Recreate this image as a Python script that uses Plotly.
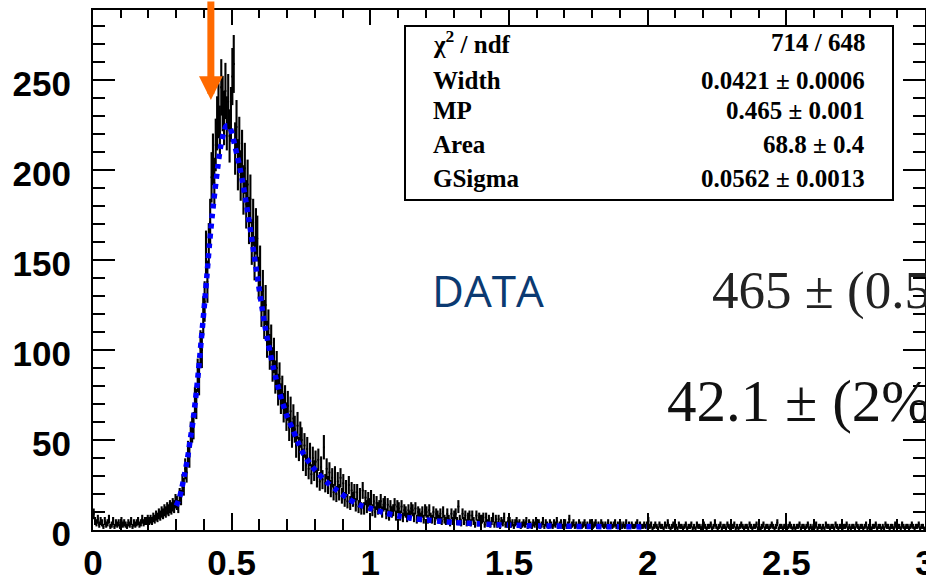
import numpy as np
import plotly.graph_objects as go

# ---------------- histogram: counts per 0.005-wide bin on [0, 3) ----------------
BIN_WIDTH = 0.005
X_MIN = 0.0

counts_baseline = [  # 0.000 - 0.195
    9, 5, 4, 6, 3, 5, 4, 2, 5, 3, 4, 6, 2, 3, 5, 2, 4, 3, 4, 2,
    5, 3, 4, 3, 2, 4, 3, 5, 2, 4, 3, 4, 5, 3, 4, 6, 4, 5, 5, 6,
]
counts_rise = [  # 0.200 - 0.295
    5, 6, 5, 7, 6, 8, 7, 9, 8, 10, 9, 11, 10, 12, 11, 13, 12, 14, 13, 16,
]
counts_peak = [  # 0.300 - 0.695
    15, 13, 19, 18, 26, 24, 34, 32, 43, 41,
    53, 56, 58, 71, 70, 86, 84, 101, 100, 119,
    127, 154, 138, 158, 171, 196, 206, 193, 214, 226,
    233, 221, 246, 237, 229, 244, 226, 238, 219, 231,
    252, 259, 212, 224, 203, 215, 197, 208, 189, 201,
    181, 192, 172, 184, 160, 171, 151, 166, 162, 140,
    146, 124, 133, 117, 125, 106, 112, 99, 104, 92,
    97, 85, 90, 78, 84, 73, 77, 68, 72, 63,
]
counts_tail = [  # 0.700 - 1.495
    69, 57, 66, 53, 62, 56, 47, 58, 45, 53,
    50, 39, 47, 36, 45, 34, 42, 31, 40, 33,
    38, 29, 39, 27, 35, 28, 46, 26, 34, 25,
    32, 23, 29, 21, 30, 20, 27, 21, 29, 19,
    26, 17, 23, 16, 25, 15, 22, 17, 21, 14,
    21, 13, 19, 12, 22, 12, 18, 13, 17, 14,
    18, 11, 16, 10, 15, 12, 13, 16, 10, 14,
    15, 9, 14, 8, 13, 10, 11, 14, 8, 13,
    12, 8, 13, 7, 11, 10, 7, 11, 8, 12,
    11, 7, 12, 6, 10, 9, 7, 10, 6, 11,
    10, 6, 11, 7, 6, 10, 5, 9, 8, 6,
    9, 5, 10, 6, 5, 9, 6, 4, 9, 5,
    8, 9, 5, 13, 6, 4, 9, 5, 8, 4,
    7, 8, 4, 8, 5, 3, 8, 4, 7, 6,
    6, 7, 3, 7, 4, 6, 3, 5, 7, 3,
    6, 3, 6, 2, 5, 4, 7, 3, 3, 5,
]
counts_flat = [  # 1.500 - 2.995
    5, 3, 4, 2, 4, 5, 3, 4, 2, 3, 4, 3, 5, 2, 4, 3, 2, 4, 3, 5,
    3, 4, 2, 3, 5, 2, 4, 3, 2, 4, 3, 2, 4, 3, 5, 2, 3, 4, 2, 3,
    4, 2, 3, 6, 2, 3, 4, 2, 3, 2, 4, 3, 2, 3, 4, 2, 3, 2, 4, 3,
    2, 3, 4, 2, 3, 2, 4, 3, 2, 3, 2, 4, 2, 3, 2, 3, 4, 2, 3, 2,
    3, 2, 3, 2, 4, 2, 3, 2, 3, 2, 2, 3, 4, 2, 3, 2, 2, 3, 2, 3,
    5, 2, 3, 1, 2, 3, 2, 1, 3, 2, 2, 1, 3, 2, 4, 2, 1, 2, 3, 2,
    2, 1, 3, 2, 2, 1, 2, 3, 1, 2, 2, 3, 1, 2, 1, 3, 2, 2, 1, 2,
    3, 2, 1, 2, 2, 3, 1, 2, 4, 2, 1, 2, 3, 1, 2, 2, 1, 3, 2, 1,
    2, 2, 3, 1, 2, 1, 2, 3, 2, 1, 2, 2, 1, 3, 2, 1, 2, 2, 3, 1,
    2, 1, 2, 3, 1, 2, 2, 1, 2, 3, 2, 1, 2, 4, 1, 2, 2, 1, 2, 2,
    1, 2, 3, 2, 1, 2, 1, 2, 2, 3, 1, 2, 2, 1, 2, 3, 1, 2, 1, 2,
    2, 3, 1, 2, 2, 1, 2, 1, 3, 2, 2, 1, 2, 2, 1, 3, 2, 1, 2, 2,
    1, 2, 2, 3, 1, 2, 1, 2, 2, 1, 3, 2, 1, 2, 2, 1, 2, 3, 1, 2,
    2, 1, 2, 2, 3, 1, 2, 2, 1, 2, 1, 3, 2, 2, 1, 2, 2, 1, 3, 2,
    2, 2, 1, 3, 2, 1, 2, 2, 1, 2, 3, 2, 1, 2, 2, 3, 1, 2, 2, 1,
]

# ---------------- Landau (x) Gauss fit curve ----------------
fit_x = [0.30, 0.31, 0.32, 0.33, 0.34, 0.35, 0.36, 0.37, 0.38, 0.39,
         0.40, 0.41, 0.42, 0.43, 0.44, 0.45, 0.46, 0.47, 0.48, 0.49,
         0.50, 0.51, 0.52, 0.53, 0.54, 0.55, 0.56, 0.57, 0.58, 0.59,
         0.60, 0.61, 0.62, 0.63, 0.64, 0.65, 0.66, 0.67, 0.68, 0.69,
         0.70, 0.72, 0.74, 0.76, 0.78, 0.80, 0.84, 0.88, 0.92, 0.96,
         1.00, 1.05, 1.10, 1.15, 1.20, 1.25, 1.30, 1.40, 1.50, 1.60,
         1.70, 1.80, 1.90, 2.00]
fit_y = [13.5, 17, 23, 31, 39, 49.5, 60, 73, 88, 105,
         122, 140, 159, 175, 189, 202, 213, 220, 224.5, 224.5,
         221, 214.5, 208, 201, 193, 184, 174.5, 164.5, 154, 143.5,
         133, 123, 113.5, 105, 97.5, 90.5, 84, 78, 72.5, 67.5,
         63, 56, 48.5, 42, 37.5, 33.5, 27, 22, 17.5, 14,
         12, 9.6, 7.8, 6.5, 5.6, 4.9, 4.2, 3.3, 2.7, 2.3,
         2.1, 1.9, 1.8, 1.7]

# ---------------- fit statistics and labels ----------------
stat_names = ["χ<sup>2</sup> / ndf", "Width", "MP", "Area", "GSigma"]
stat_values = ["714 / 648", "0.0421 ± 0.0006", "0.465 ± 0.001",
               "68.8 ± 0.4", "0.0562 ± 0.0013"]
label_sample = "DATA"
label_mp = "465 ± (0.5%)"
label_width = "42.1 ± (2%)"

x_tick_vals = [0, 0.5, 1, 1.5, 2, 2.5, 3]
x_tick_text = ["0", "0.5", "1", "1.5", "2", "2.5", "3"]
y_tick_vals = [0, 50, 100, 150, 200, 250]

arrow_x = 0.425
arrow_tip_y = 239

# ---------------- geometry helpers (pixels -> paper fractions) ----------------
W, H = 926, 582
ML, MR, MT, MB = 93, 1, 10, 52
PW, PH = W - ML - MR, H - MT - MB


def px_x(p):
    return (p - ML) / PW


def px_y(p):
    return (H - MB - p) / PH


counts = np.array(counts_baseline + counts_rise + counts_peak
                  + counts_tail + counts_flat, dtype=float)
centers = X_MIN + BIN_WIDTH * (np.arange(len(counts)) + 0.5)
errors = np.sqrt(counts)

fig = go.Figure()

fig.add_trace(go.Scatter(
    x=centers, y=counts, mode="markers",
    marker=dict(size=2, color="black"),
    error_y=dict(type="data", array=errors, color="black",
                 thickness=2.1, width=0),
    error_x=dict(type="constant", value=BIN_WIDTH / 2, color="black",
                 thickness=2.1, width=0),
    hoverinfo="skip", showlegend=False,
))

fig.add_trace(go.Scatter(
    x=fit_x, y=fit_y, mode="lines",
    line=dict(color="#0000ff", width=5.5, dash="5px,5px",
              shape="spline", smoothing=0.8),
    hoverinfo="skip", showlegend=False,
))

# carrier for the top tick axis
fig.add_trace(go.Scatter(x=[None], y=[None], xaxis="x2", yaxis="y",
                         showlegend=False, hoverinfo="skip"))

tick_font = dict(family="Liberation Sans", size=35, color="black",
                 weight="bold")

fig.update_layout(
    width=W, height=H,
    margin=dict(l=ML, r=MR, t=MT, b=MB, autoexpand=False),
    paper_bgcolor="white", plot_bgcolor="white",
    showlegend=False,
    xaxis=dict(
        range=[0, 3], showgrid=False, zeroline=False, automargin=False,
        showline=True, linecolor="black", linewidth=2, mirror=True,
        ticks="inside", ticklen=17, tickwidth=2, tickcolor="black",
        tickvals=x_tick_vals, ticktext=x_tick_text,
        minor=dict(ticks="inside", dtick=0.1, tick0=0, ticklen=11,
                   tickwidth=2, tickcolor="black", showgrid=False),
        tickfont=tick_font, ticklabelstandoff=1,
        ticklabeloverflow="allow",
    ),
    xaxis2=dict(
        range=[0, 3], overlaying="x", side="top", anchor="y",
        automargin=False,
        showgrid=False, zeroline=False, showline=False,
        ticks="inside", ticklen=15, tickwidth=2, tickcolor="black",
        tickvals=x_tick_vals, showticklabels=False,
        minor=dict(ticks="inside", dtick=0.1, tick0=0, ticklen=8,
                   tickwidth=2, tickcolor="black", showgrid=False),
    ),
    yaxis=dict(
        range=[0, 289], showgrid=False, zeroline=False, automargin=False,
        showline=True, linecolor="black", linewidth=2, mirror="ticks",
        ticks="inside", ticklen=22, tickwidth=2, tickcolor="black",
        tickvals=y_tick_vals,
        minor=dict(ticks="inside", dtick=10, tick0=0, ticklen=12,
                   tickwidth=2, tickcolor="black", showgrid=False),
        tickfont=tick_font, ticklabelstandoff=13, ticklabelshift=4,
        ticklabeloverflow="allow",
    ),
)

# fit statistics box
fig.add_shape(type="rect", xref="paper", yref="paper",
              x0=px_x(405), x1=px_x(893), y0=px_y(200), y1=px_y(26),
              line=dict(color="black", width=2), fillcolor="white",
              layer="above")

stat_font = dict(family="Liberation Serif", size=25, color="black",
                 weight="bold")
row_centers = [42, 81, 111, 145, 179]
for name, value, yc in zip(stat_names, stat_values, row_centers):
    fig.add_annotation(xref="paper", yref="paper", x=px_x(431), y=px_y(yc),
                       text=name, showarrow=False, xanchor="left",
                       yanchor="middle", font=stat_font)
    fig.add_annotation(xref="paper", yref="paper", x=px_x(867), y=px_y(yc),
                       text=value, showarrow=False, xanchor="right",
                       yanchor="middle", font=stat_font)

fig.add_annotation(xref="paper", yref="paper", x=px_x(430), y=px_y(290),
                   text=label_sample, showarrow=False, xanchor="left",
                   yanchor="middle",
                   font=dict(family="Open Sans", size=44, color="#0b3a72"))
fig.add_annotation(xref="paper", yref="paper", x=px_x(710), y=px_y(290),
                   text=label_mp, showarrow=False, xanchor="left",
                   yanchor="middle",
                   font=dict(family="Liberation Serif", size=53,
                             color="#222222"))
fig.add_annotation(xref="paper", yref="paper", x=px_x(665), y=px_y(401),
                   text=label_width, showarrow=False, xanchor="left",
                   yanchor="middle",
                   font=dict(family="Liberation Serif", size=59,
                             color="#111111"))

# marker arrow pointing at the peak
fig.add_annotation(x=arrow_x, y=arrow_tip_y, xref="x", yref="y",
                   text="", showarrow=True, ax=0, ay=-100,
                   arrowhead=2, arrowsize=0.68, arrowwidth=7,
                   arrowcolor="#ff6a00", standoff=0)

fig.write_html("out.html")
